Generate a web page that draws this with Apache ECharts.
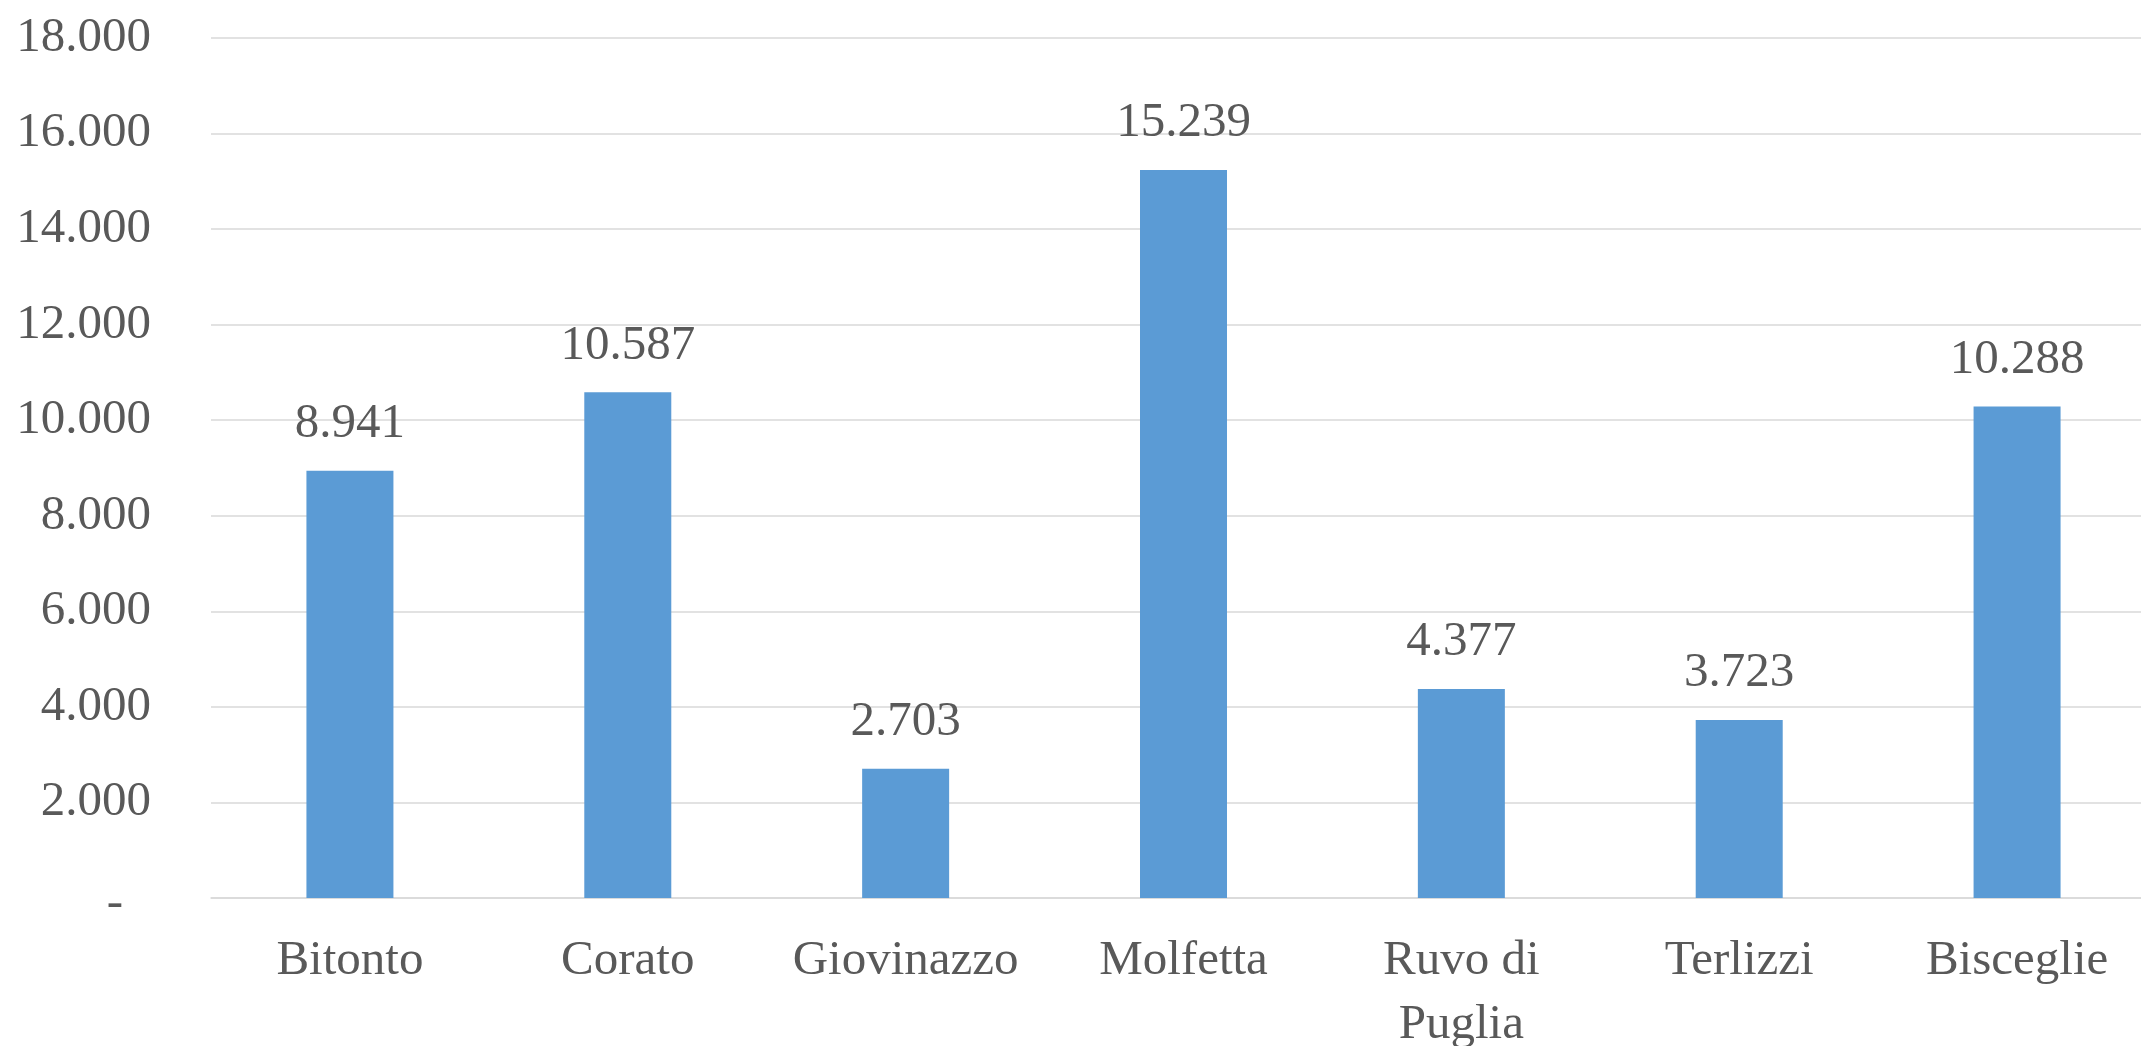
<!DOCTYPE html>
<html>
<head>
<meta charset="utf-8">
<script src="https://cdn.jsdelivr.net/npm/echarts@6/dist/echarts.min.js"></script>
<style>
html,body{margin:0;padding:0;background:#fff;}
#chart{width:2141px;height:1046px;}
</style>
</head>
<body>
<div id="chart"></div>
<script>
const categories = ['Bitonto', 'Corato', 'Giovinazzo', 'Molfetta', 'Ruvo di\nPuglia', 'Terlizzi', 'Bisceglie'];
const values = [8941, 10587, 2703, 15239, 4377, 3723, 10288];
const yMin = 0, yMax = 18000, yStep = 2000;

function fmt(v) {
  return String(Math.round(v)).replace(/\B(?=(\d{3})+(?!\d))/g, '.');
}

const FONT = '"Liberation Serif", "DejaVu Serif", serif';
const TXT = '#595959';
const FS = 49;

const chart = echarts.init(document.getElementById('chart'));
chart.setOption({
  backgroundColor: '#ffffff',
  animation: false,
  grid: { left: 211, top: 38, bottom: 148, width: 1945, containLabel: false, outerBoundsMode: 'none' },
  xAxis: {
    type: 'category',
    data: categories,
    axisLine: { show: true, lineStyle: { color: '#d9d9d9', width: 1.5 } },
    axisTick: { show: false },
    axisLabel: { color: TXT, fontFamily: FONT, fontSize: FS, margin: 31, lineHeight: 64, interval: 0 }
  },
  yAxis: {
    type: 'value',
    min: yMin, max: yMax, interval: yStep,
    axisLine: { show: false },
    axisTick: { show: false },
    splitLine: { lineStyle: { color: '#d9d9d9', width: 1.5 } },
    axisLabel: {
      color: TXT, fontFamily: FONT, fontSize: FS, margin: 60,
      formatter: function (v) { return v === 0 ? '{d|-}' : fmt(v); },
      rich: { d: { color: TXT, fontFamily: FONT, fontSize: FS, padding: [12, 28, 0, 0] } }
    }
  },
  series: [{
    type: 'bar',
    data: values,
    barWidth: 87,
    itemStyle: { color: '#5B9BD5' },
    label: {
      show: true, position: 'top', distance: 22,
      color: TXT, fontFamily: FONT, fontSize: FS,
      formatter: function (p) { return fmt(p.value); }
    }
  }]
});
</script>
</body>
</html>
